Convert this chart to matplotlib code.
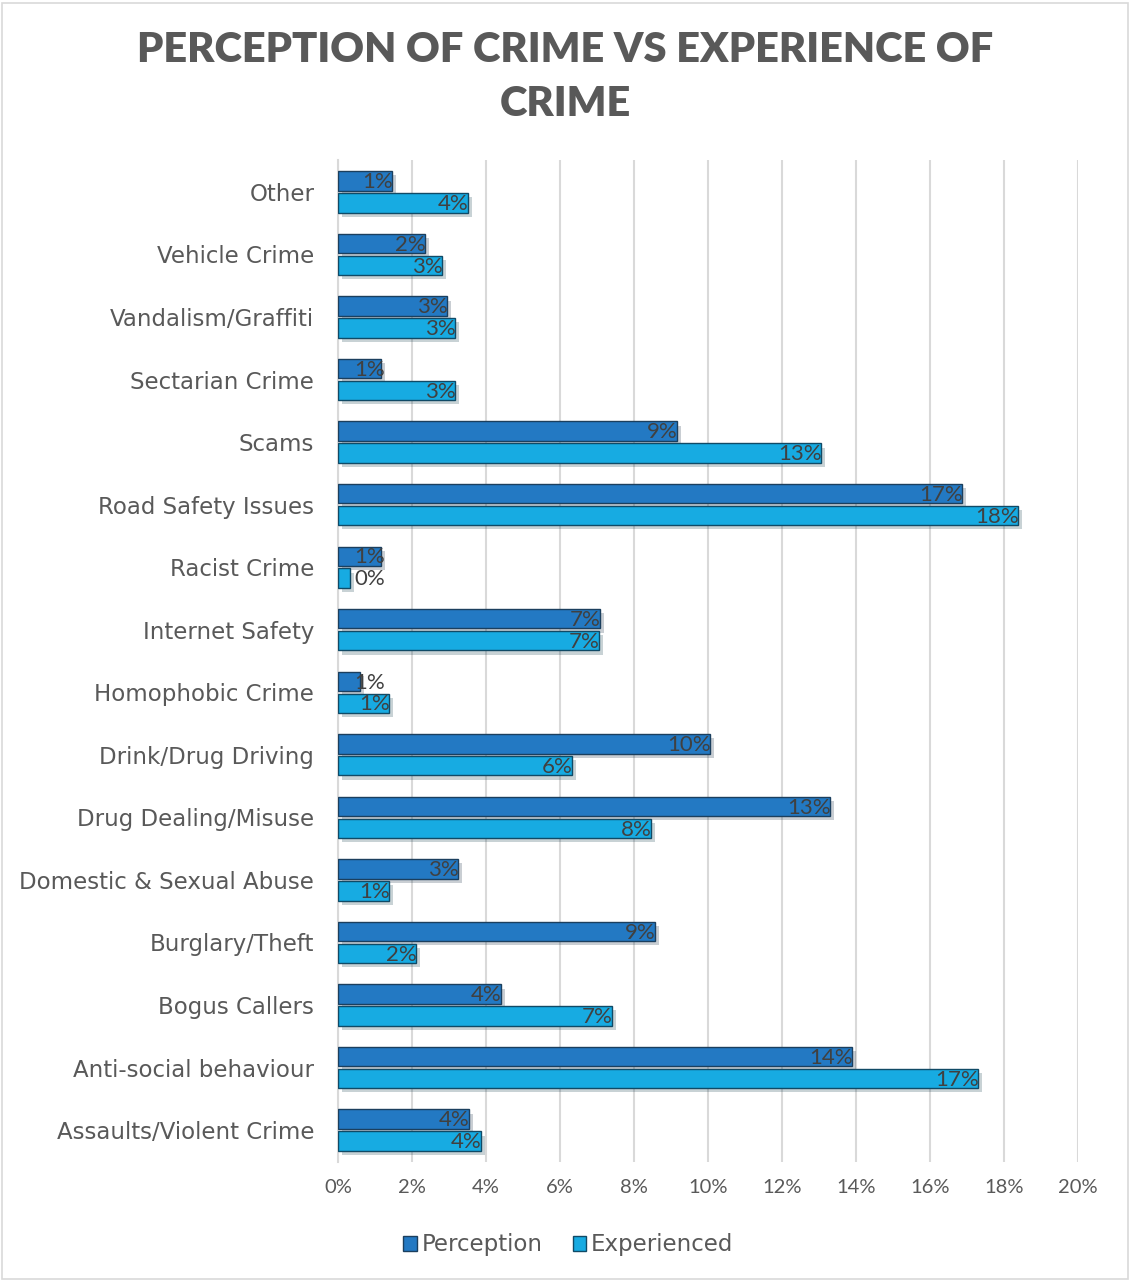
import matplotlib
matplotlib.use("Agg")
import matplotlib.pyplot as plt
import matplotlib.patheffects as pe
from matplotlib.patches import Rectangle
import numpy as np

categories = ["Assaults/Violent Crime", "Anti-social behaviour", "Bogus Callers",
              "Burglary/Theft", "Domestic & Sexual Abuse", "Drug Dealing/Misuse",
              "Drink/Drug Driving", "Homophobic Crime", "Internet Safety",
              "Racist Crime", "Road Safety Issues", "Scams", "Sectarian Crime",
              "Vandalism/Graffiti", "Vehicle Crime", "Other"]
perception = [3.54, 13.89, 4.41, 8.57, 3.24, 13.30, 10.05, 0.59, 7.08,
              1.16, 16.86, 9.16, 1.16, 2.95, 2.35, 1.46]
experienced = [3.86, 17.30, 7.41, 2.11, 1.38, 8.46, 6.32, 1.38, 7.05,
               0.32, 18.38, 13.05, 3.16, 3.16, 2.81, 3.51]
xticks = list(range(0, 21, 2))
series_names = ["Perception", "Experienced"]

plt.rcParams['font.family'] = ['Lato', 'DejaVu Sans']
GRAY = "#595959"
C_P = "#2379C3"
C_E = "#17ABE2"

fig = plt.figure(figsize=(11.3, 12.82), dpi=100)
ax = fig.add_axes([0.2991, 0.0936, 0.9540 - 0.2991, 0.8752 - 0.0936])

y = np.arange(len(categories))
h = 0.31
shadow = [pe.SimplePatchShadow(offset=(3, -3), alpha=0.22), pe.Normal()]
bp = ax.barh(y + h / 2 + 0.02, perception, height=h, color=C_P,
             edgecolor="#1B3F5E", linewidth=1.0, zorder=3)
be = ax.barh(y - h / 2 - 0.02, experienced, height=h, color=C_E,
             edgecolor="#104A66", linewidth=1.0, zorder=3)
for b in list(bp) + list(be):
    b.set_path_effects(shadow)

for vals, off in ((perception, h / 2 + 0.02), (experienced, -h / 2 - 0.02)):
    for yi, v in zip(y, vals):
        xr = max(v, 1.25) + 0.02
        ax.text(xr, yi + off - 0.02, f"{round(v):.0f}%", ha="right", va="center",
                fontsize=16, color="#404040", zorder=4)

ax.set_xlim(0, 20)
ax.set_ylim(-0.51, 15.51)
ax.set_xticks(xticks)
ax.set_xticklabels([f"{t}%" for t in xticks], fontsize=14.5, color=GRAY)
ax.set_yticks(y)
ax.set_yticklabels(categories, fontsize=16.5, color=GRAY, family=['DejaVu Sans'])
ax.tick_params(axis="both", length=0)
ax.tick_params(axis="x", pad=12)
ax.tick_params(axis="y", pad=17)
ax.grid(axis="x", color="#D9D9D9", linewidth=1.5, zorder=0)
ax.set_axisbelow(True)
for s in ["top", "right", "bottom"]:
    ax.spines[s].set_visible(False)
ax.spines["left"].set_color("#D9D9D9")
ax.spines["left"].set_linewidth(1.5)

fig.text(0.5, 0.961, "PERCEPTION OF CRIME VS EXPERIENCE OF", ha="center", va="center",
         fontsize=30, fontweight="heavy", color=GRAY, family=['Lato', 'DejaVu Sans'])
fig.text(0.5, 0.919, "CRIME", ha="center", va="center",
         fontsize=30, fontweight="heavy", color=GRAY, family=['Lato', 'DejaVu Sans'])

handles = [Rectangle((0, 0), 1, 1, facecolor=C_P, edgecolor="#1B3F5E"),
           Rectangle((0, 0), 1, 1, facecolor=C_E, edgecolor="#104A66")]
leg = fig.legend(handles, series_names, loc="center", bbox_to_anchor=(0.503, 0.029),
                 ncol=2, frameon=False, handlelength=0.6, handleheight=0.6,
                 handletextpad=0.2, columnspacing=1.3, labelcolor=GRAY,
                 prop={'family': ['DejaVu Sans'], 'size': 16.5})

fig.patches.append(Rectangle((0.002, 0.002), 0.996, 0.996, transform=fig.transFigure,
                             fill=False, edgecolor="#D9D9D9", linewidth=1.2))

fig.savefig("out.png", dpi=100, facecolor="white")
